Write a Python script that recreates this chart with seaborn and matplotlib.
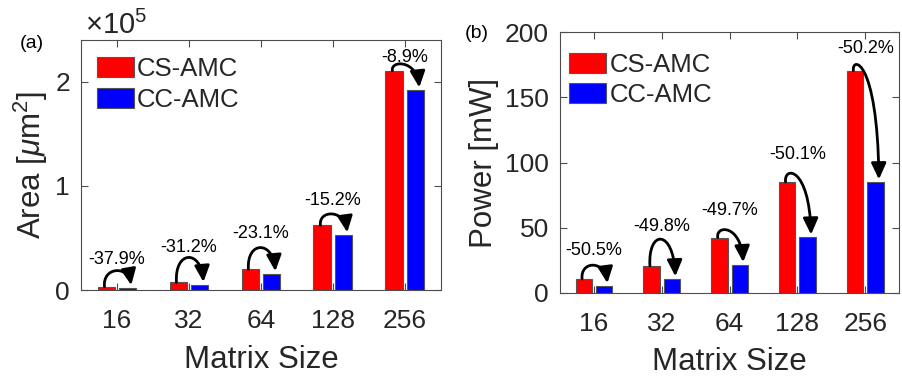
import matplotlib
matplotlib.use("Agg")
import matplotlib.pyplot as plt
import seaborn as sns
import pandas as pd
from matplotlib.patches import Patch, FancyArrowPatch, ConnectionStyle
from matplotlib.path import Path

# ---------------- data ----------------
sizes = ["16", "32", "64", "128", "256"]
series = ["CS-AMC", "CC-AMC"]
area_cs = [3200, 7400, 20000, 62200, 210500]
area_cc = [1990, 5000, 15400, 52700, 191800]
power_cs = [10.5, 20.7, 42.4, 85.1, 170.6]
power_cc = [5.2, 10.4, 21.3, 42.5, 84.9]
area_pct = ["-37.9%", "-31.2%", "-23.1%", "-15.2%", "-8.9%"]
power_pct = ["-50.5%", "-49.8%", "-49.7%", "-50.1%", "-50.2%"]
area_ticks = [0, 1e5, 2e5]
area_ticklabels = ["0", "1", "2"]
power_ticks = [0, 50, 100, 150, 200]

# ---------------- layout / style ----------------
colors = {"CS-AMC": "#ff0000", "CC-AMC": "#0000ff"}
area_loop_h = [21, 33, 29, 16, 11]       # arc control height, pixels
power_loop_h = [19, 37, 13, 16, 14]
area_txt_off = [27, 35, 36, 25, 13]      # label height above red bar, pixels
power_txt_off = [29, 39, 27, 27, 22]

sns.set_style("ticks")
plt.rcParams["font.family"] = ["Liberation Sans", "DejaVu Sans"]
plt.rcParams["mathtext.fontset"] = "custom"
plt.rcParams["mathtext.rm"] = "Liberation Sans"
plt.rcParams["mathtext.it"] = "Liberation Sans:italic"


class Loop(ConnectionStyle._Base):
    """Cubic arc rising from A, passing over, and dropping onto B."""

    def __init__(self, h=20.0, tilt=0.05):
        self.h = h
        self.tilt = tilt

    def connect(self, posA, posB):
        x1, y1 = posA
        x2, y2 = posB
        top = max(y1, y2)
        verts = [(x1, y1), (x1 - 2, top + self.h),
                 (x2 - self.tilt * (x2 - x1), top + self.h), (x2, y2)]
        codes = [Path.MOVETO, Path.CURVE4, Path.CURVE4, Path.CURVE4]
        return Path(verts, codes)


fig = plt.figure(figsize=(9.02, 3.79), dpi=100)
axL = fig.add_axes([0.0898, 0.2348, 0.399, 0.6596])
axR = fig.add_axes([0.6208, 0.2277, 0.376, 0.687])

frame_col = "#4d4d4d"
text_col = "#262626"


def make_df(cs, cc):
    rows = []
    for s, a, b in zip(sizes, cs, cc):
        rows.append({"size": s, "series": "CS-AMC", "value": a})
        rows.append({"size": s, "series": "CC-AMC", "value": b})
    return pd.DataFrame(rows)


def draw(ax, cs, cc, pct, loops, offs, ylim, yticks, yticklabels, ylabel, legend_anchor):
    df = make_df(cs, cc)
    sns.barplot(data=df, x="size", y="value", hue="series", order=sizes,
                hue_order=series, palette=colors, width=0.6, gap=0.2,
                edgecolor="#555555", linewidth=0.8, saturation=1,
                legend=False, ax=ax)
    ax.set_xlim(-0.5, 4.5)
    ax.set_ylim(*ylim)
    ax.set_yticks(yticks)
    ax.set_yticklabels(yticklabels)
    ax.set_xlabel("Matrix Size", fontsize=22.5, color=text_col, labelpad=8)
    ax.set_ylabel(ylabel, fontsize=22.5, color=text_col, labelpad=4)
    ax.tick_params(axis="both", direction="in", length=5, width=0.8,
                   top=True, right=True, labelsize=19, colors=frame_col,
                   labelcolor=text_col, pad=8)
    ax.tick_params(axis="x", pad=14)
    for sp in ax.spines.values():
        sp.set_color(frame_col)
        sp.set_linewidth(0.8)

    red_bars = ax.containers[0]
    blue_bars = ax.containers[1]
    for i, (rb, bb) in enumerate(zip(red_bars, blue_bars)):
        rx = rb.get_x() + rb.get_width() * 0.4
        ry = rb.get_height()
        bx = bb.get_x() + bb.get_width() * 0.72
        by = bb.get_height()
        arrow = FancyArrowPatch((rx, ry), (bx, by),
                                connectionstyle=Loop(h=loops[i]),
                                arrowstyle="-|>,head_length=0.65,head_width=0.3",
                                mutation_scale=15, color="black", lw=2.0,
                                shrinkA=0, shrinkB=2, transform=ax.transData,
                                zorder=5)
        ax.add_patch(arrow)
        gx = (rb.get_x() + bb.get_x() + bb.get_width()) / 2
        ax.annotate(pct[i], xy=(gx, ry), xytext=(0, offs[i]),
                    textcoords="offset pixels", ha="center", va="center",
                    fontsize=13, color="black")

    handles = [Patch(facecolor=colors[s], edgecolor="#555555", linewidth=0.8)
               for s in series]
    ax.legend(handles, series, loc="upper left", bbox_to_anchor=legend_anchor,
              frameon=False, fontsize=18.5, handlelength=1.44, handleheight=0.84,
              handletextpad=0.13, labelspacing=0.25, borderpad=0,
              borderaxespad=0, labelcolor=text_col)


draw(axL, area_cs, area_cc, area_pct, area_loop_h, area_txt_off, (0, 2.4e5),
     area_ticks, area_ticklabels, r"Area [$\mu$m$^2$]", (0.0436, 0.932))
draw(axR, power_cs, power_cc, power_pct, power_loop_h, power_txt_off, (0, 200),
     power_ticks, [str(t) for t in power_ticks], "Power [mW]", (0.027, 0.922))

axL.text(0.01, 1.0, r"$\times 10^5$", transform=axL.transAxes, ha="left",
         va="bottom", fontsize=21, color=text_col)
fig.text(20 / 902, 1 - 43 / 379, "(a)", fontsize=14, ha="left", va="center",
         color="black")
fig.text(465 / 902, 1 - 33 / 379, "(b)", fontsize=14, ha="left", va="center",
         color="black")

fig.savefig("out.png", dpi=100)
